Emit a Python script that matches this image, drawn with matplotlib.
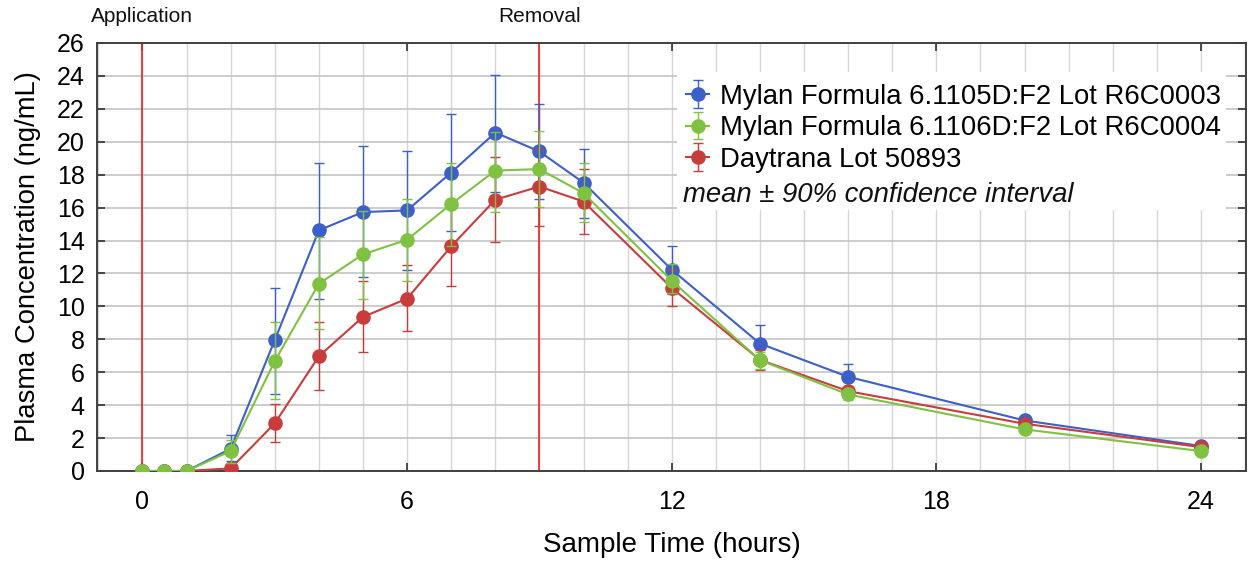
import matplotlib
matplotlib.use("Agg")
import matplotlib.pyplot as plt
from matplotlib.ticker import MultipleLocator
from matplotlib.patches import Rectangle
import matplotlib.transforms as mtransforms
import numpy as np

plt.rcParams['font.family'] = ['Liberation Sans', 'DejaVu Sans']

# Sampling times (hours)
time_h = [0, 0.5, 1, 2, 3, 4, 5, 6, 7, 8, 9, 10, 12, 14, 16, 20, 24]

# Mylan Formula 6.1105D:F2 Lot R6C0003
blue_mean = [0, 0, 0, 1.35, 7.95, 14.62, 15.73, 15.83, 18.13, 20.56, 19.41, 17.51, 12.23, 7.74, 5.72, 3.07, 1.52]
blue_low = [0, 0, 0, 0.6, 4.69, 10.47, 11.77, 12.19, 14.60, 16.94, 16.52, 15.37, 10.75, 6.60, 4.90, 2.80, 1.35]
blue_high = [0, 0, 0, 2.16, 11.12, 18.74, 19.75, 19.45, 21.67, 24.06, 22.30, 19.59, 13.69, 8.85, 6.51, 3.30, 1.65]

# Mylan Formula 6.1106D:F2 Lot R6C0004
green_mean = [0, 0, 0, 1.21, 6.67, 11.38, 13.16, 14.05, 16.22, 18.25, 18.34, 16.88, 11.56, 6.73, 4.65, 2.53, 1.21]
green_low = [0, 0, 0, 0.5, 4.35, 8.60, 10.47, 11.52, 13.69, 15.73, 16.01, 15.10, 10.80, 6.20, 4.31, 2.35, 1.10]
green_high = [0, 0, 0, 1.9, 9.04, 14.20, 15.80, 16.54, 18.74, 20.60, 20.66, 18.74, 12.60, 7.20, 4.95, 2.70, 1.35]

# Daytrana Lot 50893
red_mean = [0, 0, 0, 0.16, 2.89, 6.97, 9.36, 10.47, 13.65, 16.48, 17.28, 16.37, 11.12, 6.75, 4.85, 2.87, 1.45]
red_low = [0, 0, 0, 0.0, 1.78, 4.91, 7.22, 8.49, 11.22, 13.91, 14.90, 14.40, 10.05, 6.13, 4.60, 2.70, 1.35]
red_high = [0, 0, 0, 0.35, 4.04, 9.04, 11.56, 12.53, 16.10, 19.10, 19.57, 18.37, 12.20, 7.35, 5.10, 3.05, 1.55]

series_labels = ["Mylan Formula 6.1105D:F2 Lot R6C0003",
                 "Mylan Formula 6.1106D:F2 Lot R6C0004",
                 "Daytrana Lot 50893"]
event_times = [0, 9]
event_labels = ["Application", "Removal"]
x_ticks = [0, 6, 12, 18, 24]
y_ticks = list(range(0, 27, 2))

BLUE = "#3d5fc9"
GREEN = "#7fc242"
RED = "#c93c3c"

fig = plt.figure(figsize=(12.49, 5.69), dpi=100)
ax = fig.add_axes([97 / 1249, 1 - 471 / 569, (1246 - 97) / 1249, (471 - 43) / 569])

ax.set_xlim(-1.03, 25.02)
ax.set_ylim(0, 26)

# grid
ax.xaxis.set_major_locator(plt.FixedLocator(x_ticks))
ax.xaxis.set_minor_locator(MultipleLocator(1))
ax.set_yticks(y_ticks)
ax.grid(axis='x', which='both', color='#d6d6d6', lw=1.0, zorder=0)
ax.grid(axis='y', which='major', color='#c4c4c4', lw=1.2, zorder=0)
ax.set_axisbelow(True)

# event markers
for t in event_times:
    ax.axvline(t, color='#ff1a1a', lw=1.2, zorder=1)
trans = mtransforms.blended_transform_factory(ax.transData, ax.transAxes)
for t, lab in zip(event_times, event_labels):
    ax.text(t, 1.062, lab, transform=trans, ha='center', va='center', fontsize=15, color='#111111')


def draw(mean, low, high, color, label, z):
    m = np.array(mean)
    err = np.vstack([m - np.array(low), np.array(high) - m])
    return ax.errorbar(time_h, m, yerr=err, color=color, lw=1.5, marker='o', ms=9.5,
                       elinewidth=1.0, capsize=3.5, capthick=1.0, label=label, zorder=z)


h_blue = draw(blue_mean, blue_low, blue_high, BLUE, series_labels[0], 3)
h_red = draw(red_mean, red_low, red_high, RED, series_labels[2], 4)
h_green = draw(green_mean, green_low, green_high, GREEN, series_labels[1], 5)

# ticks and spines
for s in ax.spines.values():
    s.set_color('#404040')
    s.set_linewidth(1.4)
ax.tick_params(which='major', direction='in', length=6, width=1.2, color='#303030',
               top=True, right=True, labelsize=18)
ax.tick_params(which='minor', length=0, top=True, bottom=True)
ax.tick_params(axis='x', which='major', pad=14)
ax.tick_params(axis='y', which='major', pad=9)
ax.set_xticklabels([str(v) for v in x_ticks])

ax.set_xlabel("Sample Time (hours)", fontsize=20, labelpad=13)
ax.set_ylabel("Plasma Concentration (ng/mL)", fontsize=19.7, labelpad=11)

# legend panel
ax.add_patch(Rectangle((0.505, 0.610), 0.478, 0.322, transform=ax.transAxes,
                       facecolor='white', edgecolor='none', zorder=6))
leg = ax.legend(handles=[h_blue, h_green, h_red], labels=series_labels,
                loc='upper left', bbox_to_anchor=(0.5126, 0.905), frameon=False,
                fontsize=19.8, borderpad=0, borderaxespad=0, handlelength=0.85,
                handletextpad=0.4, labelspacing=0.2)
leg.set_zorder(7)
ax.text(0.510, 0.645, "mean \u00b1 90% confidence interval", transform=ax.transAxes,
        ha='left', va='center', fontsize=19.8, style='italic', zorder=7, color='#111111')

fig.savefig("out.png", dpi=100)
